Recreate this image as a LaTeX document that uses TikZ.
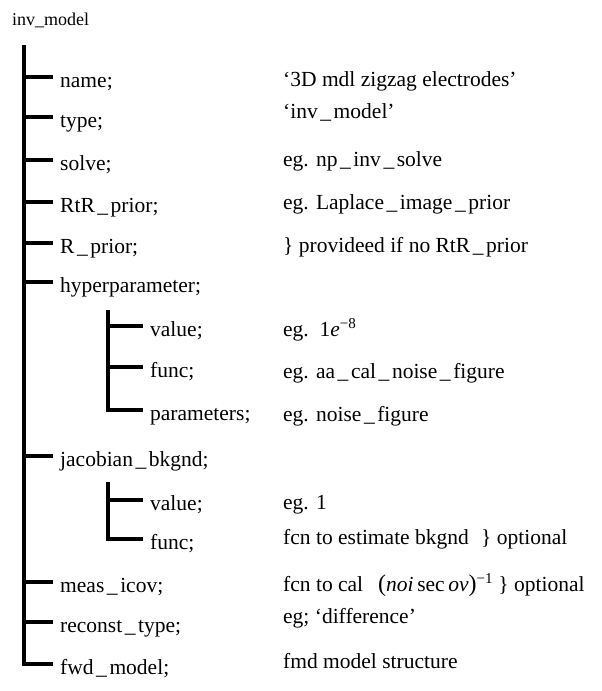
\documentclass[tikz,border=0pt]{standalone}
\usepackage{fontspec}
\setmainfont{Liberation Serif}
% underscore with a little air on both sides
\newcommand\us{\kern0.12em\_\kern0.12em}
\begin{document}
\begin{tikzpicture}[x=1pt,y=1pt,
  field/.style={anchor=west, inner sep=0pt, text height=22pt, text depth=2pt,
              font=\fontsize{21.5}{25}\selectfont},
  note/.style={anchor=west, inner sep=0pt, text height=15pt, text depth=5pt,
              font=\fontsize{21.5}{25}\selectfont},
  branch/.style={line width=4.2pt, line join=miter},
]
\useasboundingbox (0,0) rectangle (602,-691);

% root label
\node[anchor=west, inner sep=0pt, font=\fontsize{18}{20}\selectfont] (title) at (12,-20) {inv\_model};

% first-level fields
\node[field] (name)   at (60,-77)  {name;};
\node[field] (type)   at (60,-117) {type;};
\node[field] (solve)  at (60,-160) {solve;};
\node[field] (rtr)    at (60,-202) {RtR\us prior;};
\node[field] (rp)     at (60,-243) {R\us prior;};
\node[field] (hyper)  at (60,-282) {hyperparameter;};
\node[field] (jac)    at (60,-456) {jacobian\us bkgnd;};
\node[field] (meas)   at (60,-582) {meas\us icov;};
\node[field] (recon)  at (60,-622) {reconst\us type;};
\node[field] (fwd)    at (60,-664) {fwd\us model;};

% second-level fields
\node[field] (hval)   at (150,-326) {value;};
\node[field] (hfunc)  at (150,-367) {func;};
\node[field] (hpar)   at (150,-410) {parameters;};
\node[field] (jval)   at (150,-500) {value;};
\node[field] (jfunc)  at (150,-539) {func;};

% descriptions
\node[note] at (283,-81)  {‘3D mdl zigzag electrodes’};
\node[note] at (283,-113) {‘inv\us model’};
\node[note] at (283,-161) {eg. np\us inv\us solve};
\node[note] at (283,-204) {eg. Laplace\us image\us prior};
\node[note] at (283,-247) {\} provideed if no RtR\us prior};
\node[note] at (283,-331) {eg.\ \ 1\textit{e}\textsuperscript{−8}};
\node[note] at (283,-373) {eg. aa\us cal\us noise\us figure};
\node[note] at (283,-416) {eg. noise\us figure};
\node[note] at (283,-504) {eg. 1};
\node[note] at (283,-539) {fcn to estimate bkgnd};
\node[note] at (481,-539) {\} optional};
\node[note] at (283,-586) {fcn to cal\hspace{0.7em}{\fontsize{24}{27}\selectfont(}\textit{noi}\,sec\,\textit{ov}{\fontsize{24}{27}\selectfont)}\textsuperscript{−1}\hspace{0.25em}\} optional};
\node[note] at (283,-618) {eg; ‘difference’};
\node[note] at (283,-663) {fmd model structure};

% trunks
\coordinate (root) at (24,-45);
\coordinate (hroot) at (108,-310);
\coordinate (jroot) at (108,-482);

\draw[branch] (root) |- ([xshift=-7pt]fwd.west);
\foreach \k in {name,type,solve,rtr,rp,hyper,jac,meas,recon}
  \draw[branch] (root |- \k.west) -- ([xshift=-7pt]\k.west);

\draw[branch] (hroot) |- ([xshift=-7pt]hpar.west);
\foreach \k in {hval,hfunc}
  \draw[branch] (hroot |- \k.west) -- ([xshift=-7pt]\k.west);

\draw[branch] (jroot) |- ([xshift=-7pt]jfunc.west);
\draw[branch] (jroot |- jval.west) -- ([xshift=-7pt]jval.west);
\end{tikzpicture}
\end{document}
